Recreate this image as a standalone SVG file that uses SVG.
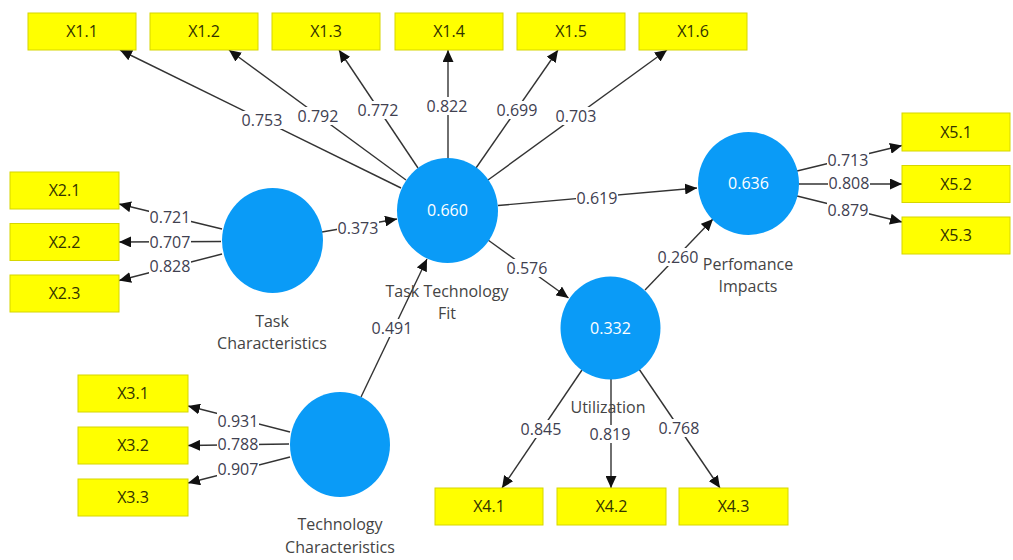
<svg xmlns="http://www.w3.org/2000/svg" width="1013" height="560" viewBox="0 0 1013 560">
<defs>
<marker id="ah" markerWidth="13" markerHeight="11" refX="12" refY="5.5" orient="auto" markerUnits="userSpaceOnUse">
<path d="M0,0 L12,5.5 L0,11 z" fill="#111"/>
</marker>
<style>
.box{fill:#ffff00;stroke:#d6d600;stroke-width:1}
.bt{font-family:"Open Sans","Noto Sans",sans-serif;font-size:16px;fill:#333300;text-anchor:middle}
.lv{fill:#0a9bf7}
.lvt{font-family:"Open Sans","Noto Sans",sans-serif;font-size:16px;fill:#ffffff;text-anchor:middle}
.nl{font-family:"Open Sans","Noto Sans",sans-serif;font-size:16px;fill:#444;text-anchor:middle}
.c{stroke:#333;stroke-width:1.4;fill:none}
.a{marker-end:url(#ah)}
.bg{fill:#fff}
.w{font-family:"Open Sans","Noto Sans",sans-serif;font-size:16px;fill:#404050;text-anchor:middle}
</style>
</defs>
<rect width="1013" height="560" fill="#fff"/>
<g id="connectors">
<line class="c a" x1="401" y1="188" x2="120" y2="50"/>
<line class="c a" x1="406" y1="180" x2="229" y2="50"/>
<line class="c a" x1="418" y1="168" x2="339" y2="50"/>
<line class="c a" x1="448" y1="159" x2="448" y2="50"/>
<line class="c a" x1="476" y1="168" x2="558" y2="50"/>
<line class="c a" x1="488" y1="180" x2="667" y2="50"/>
<line class="c a" x1="498" y1="205.5" x2="697" y2="188"/>
<line class="c a" x1="488" y1="240" x2="568.5" y2="298"/>
<line class="c a" x1="322" y1="232" x2="397" y2="219"/>
<line class="c a" x1="361" y1="397" x2="427" y2="259"/>
<line class="c a" x1="645" y1="290" x2="713" y2="219"/>
<line class="c a" x1="797" y1="171" x2="902" y2="145.5"/>
<line class="c a" x1="799" y1="184" x2="902" y2="184"/>
<line class="c a" x1="797" y1="196" x2="902" y2="222"/>
<line class="c a" x1="222" y1="229" x2="119" y2="204"/>
<line class="c a" x1="221" y1="241.5" x2="119" y2="242"/>
<line class="c a" x1="222" y1="254" x2="119" y2="280.5"/>
<line class="c a" x1="290" y1="432" x2="188" y2="406"/>
<line class="c a" x1="289" y1="444" x2="188" y2="445.5"/>
<line class="c a" x1="290" y1="457" x2="188" y2="483"/>
<line class="c a" x1="582" y1="370" x2="502" y2="488"/>
<line class="c a" x1="611" y1="379" x2="611" y2="488"/>
<line class="c a" x1="639" y1="369" x2="720" y2="488"/>
<rect class="bg" x="241" y="111" width="42" height="18"/><text class="w" x="262" y="126">0.753</text>
<rect class="bg" x="297" y="107" width="42" height="18"/><text class="w" x="318" y="122">0.792</text>
<rect class="bg" x="357" y="101" width="42" height="18"/><text class="w" x="378" y="116">0.772</text>
<rect class="bg" x="426" y="97" width="42" height="18"/><text class="w" x="447" y="112">0.822</text>
<rect class="bg" x="496" y="101" width="42" height="18"/><text class="w" x="517" y="116">0.699</text>
<rect class="bg" x="555" y="107" width="42" height="18"/><text class="w" x="576" y="122">0.703</text>
<rect class="bg" x="576" y="189" width="42" height="18"/><text class="w" x="597" y="204">0.619</text>
<rect class="bg" x="506" y="259" width="42" height="18"/><text class="w" x="527" y="274">0.576</text>
<rect class="bg" x="337" y="219" width="42" height="18"/><text class="w" x="358" y="234">0.373</text>
<rect class="bg" x="371" y="319" width="42" height="18"/><text class="w" x="392" y="334">0.491</text>
<rect class="bg" x="657" y="248" width="42" height="18"/><text class="w" x="678" y="263">0.260</text>
<rect class="bg" x="827" y="151" width="42" height="18"/><text class="w" x="848" y="166">0.713</text>
<rect class="bg" x="828" y="174" width="42" height="18"/><text class="w" x="849" y="189">0.808</text>
<rect class="bg" x="827" y="201" width="42" height="18"/><text class="w" x="848" y="216">0.879</text>
<rect class="bg" x="149" y="208" width="42" height="18"/><text class="w" x="170" y="223">0.721</text>
<rect class="bg" x="149" y="233" width="42" height="18"/><text class="w" x="170" y="248">0.707</text>
<rect class="bg" x="149" y="257" width="42" height="18"/><text class="w" x="170" y="272">0.828</text>
<rect class="bg" x="217" y="412" width="42" height="18"/><text class="w" x="238" y="427">0.931</text>
<rect class="bg" x="217" y="435" width="42" height="18"/><text class="w" x="238" y="450">0.788</text>
<rect class="bg" x="217" y="460" width="42" height="18"/><text class="w" x="238" y="475">0.907</text>
<rect class="bg" x="520" y="420" width="42" height="18"/><text class="w" x="541" y="435">0.845</text>
<rect class="bg" x="589" y="425" width="42" height="18"/><text class="w" x="610" y="440">0.819</text>
<rect class="bg" x="658" y="419" width="42" height="18"/><text class="w" x="679" y="434">0.768</text>
</g>
<g id="X1.1"><rect class="box" x="28" y="13" width="108" height="37"/><text class="bt" x="82" y="37">X1.1</text></g>
<g id="X1.2"><rect class="box" x="150" y="13" width="108" height="37"/><text class="bt" x="204" y="37">X1.2</text></g>
<g id="X1.3"><rect class="box" x="272" y="13" width="108" height="37"/><text class="bt" x="326" y="37">X1.3</text></g>
<g id="X1.4"><rect class="box" x="395" y="13" width="108" height="37"/><text class="bt" x="449" y="37">X1.4</text></g>
<g id="X1.5"><rect class="box" x="517" y="13" width="108" height="37"/><text class="bt" x="571" y="37">X1.5</text></g>
<g id="X1.6"><rect class="box" x="639" y="13" width="108" height="37"/><text class="bt" x="693" y="37">X1.6</text></g>
<g id="X2.1"><rect class="box" x="10" y="172" width="109" height="37"/><text class="bt" x="64.5" y="196">X2.1</text></g>
<g id="X2.2"><rect class="box" x="10" y="223.5" width="109" height="37"/><text class="bt" x="64.5" y="247.5">X2.2</text></g>
<g id="X2.3"><rect class="box" x="10" y="275" width="109" height="37"/><text class="bt" x="64.5" y="299">X2.3</text></g>
<g id="X3.1"><rect class="box" x="78" y="375" width="110" height="37"/><text class="bt" x="133" y="399">X3.1</text></g>
<g id="X3.2"><rect class="box" x="78" y="427" width="110" height="37"/><text class="bt" x="133" y="451">X3.2</text></g>
<g id="X3.3"><rect class="box" x="78" y="479" width="110" height="37"/><text class="bt" x="133" y="503">X3.3</text></g>
<g id="X4.1"><rect class="box" x="435" y="488" width="108" height="37"/><text class="bt" x="489" y="512">X4.1</text></g>
<g id="X4.2"><rect class="box" x="557" y="488" width="109" height="37"/><text class="bt" x="611.5" y="512">X4.2</text></g>
<g id="X4.3"><rect class="box" x="679" y="488" width="109" height="37"/><text class="bt" x="733.5" y="512">X4.3</text></g>
<g id="X5.1"><rect class="box" x="902" y="113" width="108" height="38"/><text class="bt" x="956" y="137.5">X5.1</text></g>
<g id="X5.2"><rect class="box" x="902" y="165.5" width="108" height="37"/><text class="bt" x="956" y="189.5">X5.2</text></g>
<g id="X5.3"><rect class="box" x="902" y="217" width="108" height="37"/><text class="bt" x="956" y="241">X5.3</text></g>
<g id="TTF"><ellipse class="lv" cx="447.5" cy="210.5" rx="50.5" ry="52.5"/><text class="lvt" x="447.5" y="216">0.660</text><text class="nl" x="447" y="297">Task Technology</text><text class="nl" x="447" y="319">Fit</text></g>
<g id="TC"><ellipse class="lv" cx="272.5" cy="240.5" rx="50.5" ry="52.5"/><text class="nl" x="272" y="327">Task</text><text class="nl" x="272" y="349">Characteristics</text></g>
<g id="TechC"><ellipse class="lv" cx="340" cy="444.5" rx="50" ry="52.5"/><text class="nl" x="340" y="530">Technology</text><text class="nl" x="340" y="553">Characteristics</text></g>
<g id="Util"><ellipse class="lv" cx="610.5" cy="328" rx="50" ry="51.5"/><text class="lvt" x="610.5" y="333.5">0.332</text><text class="nl" x="608" y="413">Utilization</text></g>
<g id="PI"><ellipse class="lv" cx="748.5" cy="183.5" rx="50.5" ry="51.5"/><text class="lvt" x="748.5" y="189">0.636</text><text class="nl" x="748" y="270">Perfomance</text><text class="nl" x="748" y="292">Impacts</text></g>
</svg>
